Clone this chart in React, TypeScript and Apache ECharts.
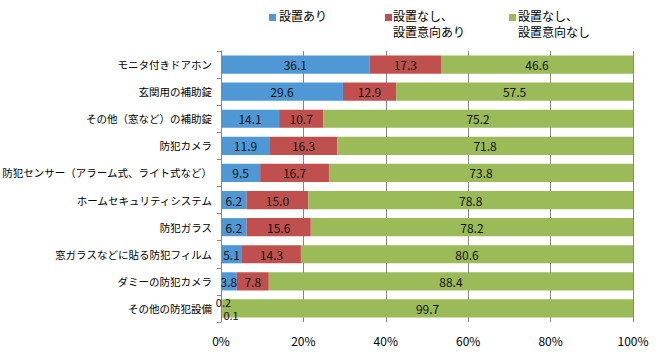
import React, { useEffect, useRef } from "react";
import * as echarts from "echarts";

const categories = [
  "モニタ付きドアホン",
  "玄関用の補助錠",
  "その他（窓など）の補助錠",
  "防犯カメラ",
  "防犯センサー（アラーム式、ライト式など）",
  "ホームセキュリティシステム",
  "防犯ガラス",
  "窓ガラスなどに貼る防犯フィルム",
  "ダミーの防犯カメラ",
  "その他の防犯設備",
];
const seriesNames = ["設置あり", "設置なし、\n設置意向あり", "設置なし、\n設置意向なし"];
const installed = [36.1, 29.6, 14.1, 11.9, 9.5, 6.2, 6.2, 5.1, 3.8, 0.2];
const notInstalledWant = [17.3, 12.9, 10.7, 16.3, 16.7, 15.0, 15.6, 14.3, 7.8, 0.1];
const notInstalledNoWant = [46.6, 57.5, 75.2, 71.8, 73.8, 78.8, 78.2, 80.6, 88.4, 99.7];
const xTicks = [0, 20, 40, 60, 80, 100];

const colors = ["#4F98D6", "#C0504D", "#9BBB59"];
const FONT = "'Noto Sans CJK JP', sans-serif";

export default function App() {
  const ref = useRef<HTMLDivElement>(null);
  useEffect(() => {
    document.body.style.margin = "0";
    if (!ref.current) return;
    const chart = echarts.init(ref.current, undefined, { renderer: "svg" });
    const dataSets = [installed, notInstalledWant, notInstalledNoWant];
    const smallOffsets: Record<number, [number, number]> = { 0: [2, -6], 1: [9, 7] };
    const series = dataSets.map((arr, si) => ({
      name: seriesNames[si],
      type: "bar",
      stack: "total",
      barCategoryGap: "33%",
      itemStyle: { color: colors[si] },
      label: {
        show: true,
        position: "inside",
        color: "#111",
        fontSize: 12,
        fontFamily: FONT,
        formatter: (p: any) => Number(p.value).toFixed(1),
      },
      data: arr.map((v) => {
        if (v < 1 && smallOffsets[si]) {
          return {
            value: v,
            label: { offset: smallOffsets[si], position: "inside", fontSize: 11, lineHeight: 11 },
          };
        }
        return v;
      }),
    }));

    const legendPos = [
      { x: 269, tx: 279 },
      { x: 385, tx: 393 },
      { x: 509, tx: 518 },
    ];
    const graphic: any[] = [];
    legendPos.forEach((p, i) => {
      graphic.push({
        type: "rect",
        left: p.x,
        top: 14,
        shape: { width: 7, height: 7 },
        style: { fill: colors[i] },
      });
      seriesNames[i].split("\n").forEach((line, li) => {
        graphic.push({
          type: "text",
          left: p.tx,
          top: 9 + li * 16,
          style: {
            text: line,
            fontSize: 12,
            fontFamily: FONT,
            fill: "#000",
            lineHeight: 13,
          },
        });
      });
    });

    chart.setOption({
      animation: false,
      textStyle: { fontFamily: FONT },
      grid: { left: 221, right: 34, top: 51, bottom: 30, outerBoundsMode: "none", containLabel: false },
      graphic,
      xAxis: {
        type: "value",
        min: 0,
        max: 100,
        interval: 20,
        axisLine: { show: false },
        axisTick: { show: false },
        splitLine: { show: true, lineStyle: { color: "#868686", width: 1 } },
        axisLabel: {
          color: "#000",
          fontSize: 12,
          fontFamily: FONT,
          margin: 12,
          formatter: (v: number) => (xTicks.includes(v) ? v + "%" : ""),
        },
      },
      yAxis: {
        type: "category",
        inverse: true,
        data: categories,
        axisLine: { show: true, lineStyle: { color: "#868686" } },
        axisTick: { show: true, length: 4, lineStyle: { color: "#868686" } },
        axisLabel: { color: "#000", fontSize: 10.5, fontFamily: FONT, margin: 9 },
      },
      series,
    });
    return () => chart.dispose();
  }, []);
  return <div ref={ref} style={{ width: 667, height: 352 }} />;
}
